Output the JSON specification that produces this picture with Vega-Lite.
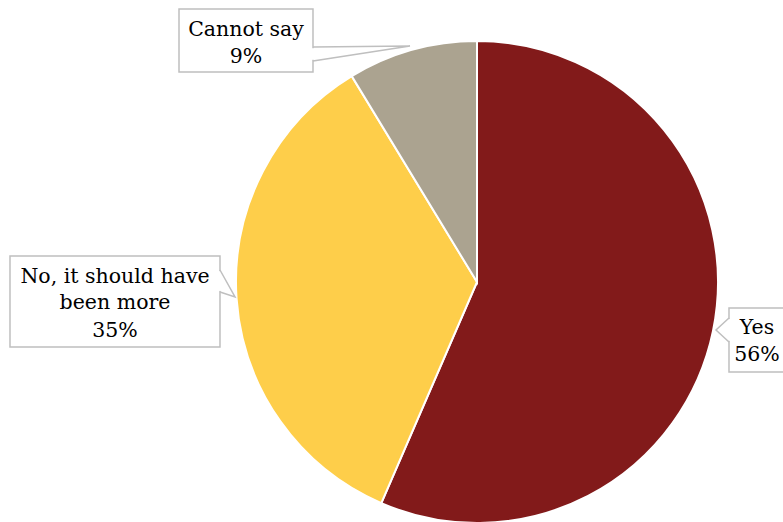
{
  "$schema": "https://vega.github.io/schema/vega-lite/v6.json",
  "width": 482,
  "height": 482,
  "autosize": {"type": "none"},
  "padding": {"left": 236, "top": 41, "right": 65, "bottom": 0},
  "background": "white",
  "config": {"view": {"stroke": null}},
  "datasets": {
    "shares": [
      {"answer": "Yes", "pct": 56.5, "order": 1},
      {"answer": "No, it should have been more", "pct": 34.8, "order": 2},
      {"answer": "Cannot say", "pct": 8.7, "order": 3}
    ],
    "boxes": [
      {"answer": "Cannot say", "x1": -1.2365, "x2": -0.6805, "y1": 1.1328, "y2": 0.8714},
      {"answer": "No", "x1": -1.9378, "x2": -1.0664, "y1": 0.1079, "y2": -0.2697},
      {"answer": "Yes", "x1": 1.0456, "x2": 1.30, "y1": -0.1079, "y2": -0.3734}
    ],
    "gaps": [
      {"answer": "Cannot say", "x1": -0.6805, "y1": 0.970, "x2": -0.6805, "y2": 0.922},
      {"answer": "No", "x1": -1.0664, "y1": 0.045, "x2": -1.0664, "y2": -0.037},
      {"answer": "Yes", "x1": 1.0456, "y1": -0.154, "x2": 1.0456, "y2": -0.244}
    ],
    "pointers": [
      {"answer": "Cannot say", "seq": 1, "x": -0.6805, "y": 0.9751},
      {"answer": "Cannot say", "seq": 2, "x": -0.278, "y": 0.9793},
      {"answer": "Cannot say", "seq": 3, "x": -0.6805, "y": 0.9170},
      {"answer": "No", "seq": 1, "x": -1.0664, "y": 0.0498},
      {"answer": "No", "seq": 2, "x": -1.0041, "y": -0.0622},
      {"answer": "No", "seq": 3, "x": -1.0664, "y": -0.0415},
      {"answer": "Yes", "seq": 1, "x": 1.0456, "y": -0.1494},
      {"answer": "Yes", "seq": 2, "x": 0.9917, "y": -0.1992},
      {"answer": "Yes", "seq": 3, "x": 1.0456, "y": -0.2490}
    ],
    "texts": [
      {"line": "Cannot say", "x": -0.9585, "y": 1.0456},
      {"line": "9%", "x": -0.9585, "y": 0.9336},
      {"line": "No, it should have", "x": -1.5021, "y": 0.0207},
      {"line": "been more", "x": -1.5021, "y": -0.0871},
      {"line": "35%", "x": -1.5021, "y": -0.2033},
      {"line": "Yes", "x": 1.1618, "y": -0.1909},
      {"line": "56%", "x": 1.1618, "y": -0.3029}
    ]
  },
  "layer": [
    {
      "data": {"name": "shares"},
      "mark": {"type": "arc", "outerRadius": 241, "stroke": "white", "strokeWidth": 2},
      "encoding": {
        "theta": {"field": "pct", "type": "quantitative", "stack": true},
        "order": {"field": "order", "type": "quantitative"},
        "color": {
          "field": "answer",
          "type": "nominal",
          "scale": {
            "domain": ["Yes", "No, it should have been more", "Cannot say"],
            "range": ["#821A1A", "#FECE4A", "#ABA390"]
          },
          "legend": null
        }
      }
    },
    {
      "data": {"name": "boxes"},
      "mark": {"type": "rect", "fill": "white", "stroke": "#BFBFBF", "strokeWidth": 1.5},
      "encoding": {
        "x": {"field": "x1", "type": "quantitative", "scale": {"domain": [-1, 1], "nice": false, "zero": false}, "axis": null},
        "x2": {"field": "x2"},
        "y": {"field": "y1", "type": "quantitative", "scale": {"domain": [-1, 1], "nice": false, "zero": false}, "axis": null},
        "y2": {"field": "y2"}
      }
    },
    {
      "data": {"name": "gaps"},
      "mark": {"type": "rule", "stroke": "white", "strokeWidth": 3},
      "encoding": {
        "x": {"field": "x1", "type": "quantitative"},
        "x2": {"field": "x2"},
        "y": {"field": "y1", "type": "quantitative"},
        "y2": {"field": "y2"}
      }
    },
    {
      "data": {"name": "pointers"},
      "mark": {"type": "line", "stroke": "#BFBFBF", "strokeWidth": 1.5},
      "encoding": {
        "x": {"field": "x", "type": "quantitative"},
        "y": {"field": "y", "type": "quantitative"},
        "detail": {"field": "answer", "type": "nominal"},
        "order": {"field": "seq", "type": "quantitative"}
      }
    },
    {
      "data": {"name": "texts"},
      "mark": {"type": "text", "font": "DejaVu Serif", "fontSize": 20.5, "color": "#000000", "align": "center", "baseline": "middle"},
      "encoding": {
        "x": {"field": "x", "type": "quantitative"},
        "y": {"field": "y", "type": "quantitative"},
        "text": {"field": "line", "type": "nominal"}
      }
    }
  ]
}
